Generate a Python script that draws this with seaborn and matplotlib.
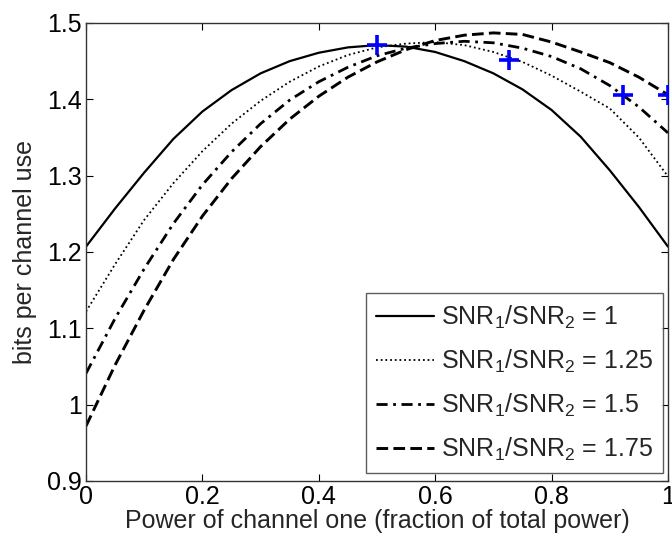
import matplotlib
matplotlib.use("Agg")
import matplotlib.pyplot as plt
import pandas as pd
import seaborn as sns
from matplotlib.ticker import FormatStrFormatter

sns.set_theme(style="ticks")
plt.rcParams["font.family"] = ["Liberation Sans", "DejaVu Sans"]
plt.rcParams["mathtext.fontset"] = "custom"
plt.rcParams["mathtext.rm"] = "Liberation Sans"
plt.rcParams["mathtext.it"] = "Liberation Sans:italic"

# power fraction given to channel one
power_frac = [0.00, 0.05, 0.10, 0.15, 0.20, 0.25, 0.30, 0.35, 0.40, 0.45, 0.50,
              0.55, 0.60, 0.65, 0.70, 0.75, 0.80, 0.85, 0.90, 0.95, 1.00]

# bits per channel use, one list per SNR ratio
rate_ratio_1 = [1.207, 1.257, 1.304, 1.348, 1.384, 1.412, 1.434, 1.450, 1.461, 1.468, 1.471,
                1.469, 1.462, 1.450, 1.434, 1.413, 1.386, 1.351, 1.307, 1.259, 1.207]
rate_ratio_125 = [1.122, 1.184, 1.242, 1.290, 1.332, 1.368, 1.398, 1.423, 1.443, 1.458, 1.468,
                  1.473, 1.475, 1.471, 1.462, 1.449, 1.431, 1.410, 1.388, 1.350, 1.299]
rate_ratio_15 = [1.041, 1.113, 1.178, 1.237, 1.288, 1.331, 1.368, 1.399, 1.423, 1.442, 1.457,
                 1.467, 1.473, 1.476, 1.474, 1.467, 1.456, 1.440, 1.418, 1.390, 1.356]
rate_ratio_175 = [0.972, 1.052, 1.124, 1.190, 1.247, 1.296, 1.338, 1.374, 1.404, 1.429, 1.449,
                  1.465, 1.477, 1.484, 1.487, 1.485, 1.475, 1.462, 1.448, 1.429, 1.406]

series_labels = [r"SNR$_1$/SNR$_2$ = 1", r"SNR$_1$/SNR$_2$ = 1.25",
                 r"SNR$_1$/SNR$_2$ = 1.5", r"SNR$_1$/SNR$_2$ = 1.75"]

# blue '+' markers
marker_x = [0.500, 0.727, 0.922, 1.000]
marker_y = [1.471, 1.452, 1.406, 1.405]

x_ticks = [0, 0.2, 0.4, 0.6, 0.8, 1]
y_ticks = [0.9, 1.0, 1.1, 1.2, 1.3, 1.4, 1.5]

fig = plt.figure(figsize=(6.72, 5.43), dpi=100)
ax = fig.add_axes([0.128, 0.1142, 0.866, 0.8435])

styles = [
    dict(linestyle="-", linewidth=1.6),
    dict(linestyle=(0, (1, 1.6)), linewidth=1.3),
    dict(linestyle=(0, (4, 2, 1, 2)), linewidth=2.0),
    dict(linestyle=(0, (4, 1.8)), linewidth=2.1),
]
all_rates = [rate_ratio_1, rate_ratio_125, rate_ratio_15, rate_ratio_175]
for rates, label, st in zip(all_rates, series_labels, styles):
    df = pd.DataFrame({"power": power_frac, "rate": rates})
    sns.lineplot(data=df, x="power", y="rate", ax=ax, color="black", label=label, **st)

sns.scatterplot(x=marker_x, y=marker_y, ax=ax, marker="+", s=200, color="#0000ff",
                linewidth=2.6, zorder=5)

ax.set_xlim(0, 1)
ax.set_ylim(0.9, 1.5)
ax.set_xticks(x_ticks)
ax.set_yticks(y_ticks)
ax.xaxis.set_major_formatter(FormatStrFormatter("%g"))
ax.yaxis.set_major_formatter(FormatStrFormatter("%g"))
ax.tick_params(direction="in", length=5, width=0.8, labelsize=18, colors="black",
               top=True, right=True, pad=3)
for sp in ax.spines.values():
    sp.set_visible(True)
    sp.set_color("#333333")
    sp.set_linewidth(1.0)

ax.set_xlabel("Power of channel one (fraction of total power)", fontsize=18, labelpad=0)
ax.set_ylabel("bits per channel use", fontsize=18)
ax.yaxis.set_label_coords(-0.084, 0.5)

leg = ax.legend(loc="lower right", bbox_to_anchor=(0.992, 0.017), borderaxespad=0,
                fontsize=18, frameon=True, fancybox=False, handlelength=2.3,
                handletextpad=0.3, labelspacing=0.68, borderpad=0.4)
leg.get_frame().set_edgecolor("#333333")
leg.get_frame().set_linewidth(1.0)

fig.savefig("out.png", dpi=100)
